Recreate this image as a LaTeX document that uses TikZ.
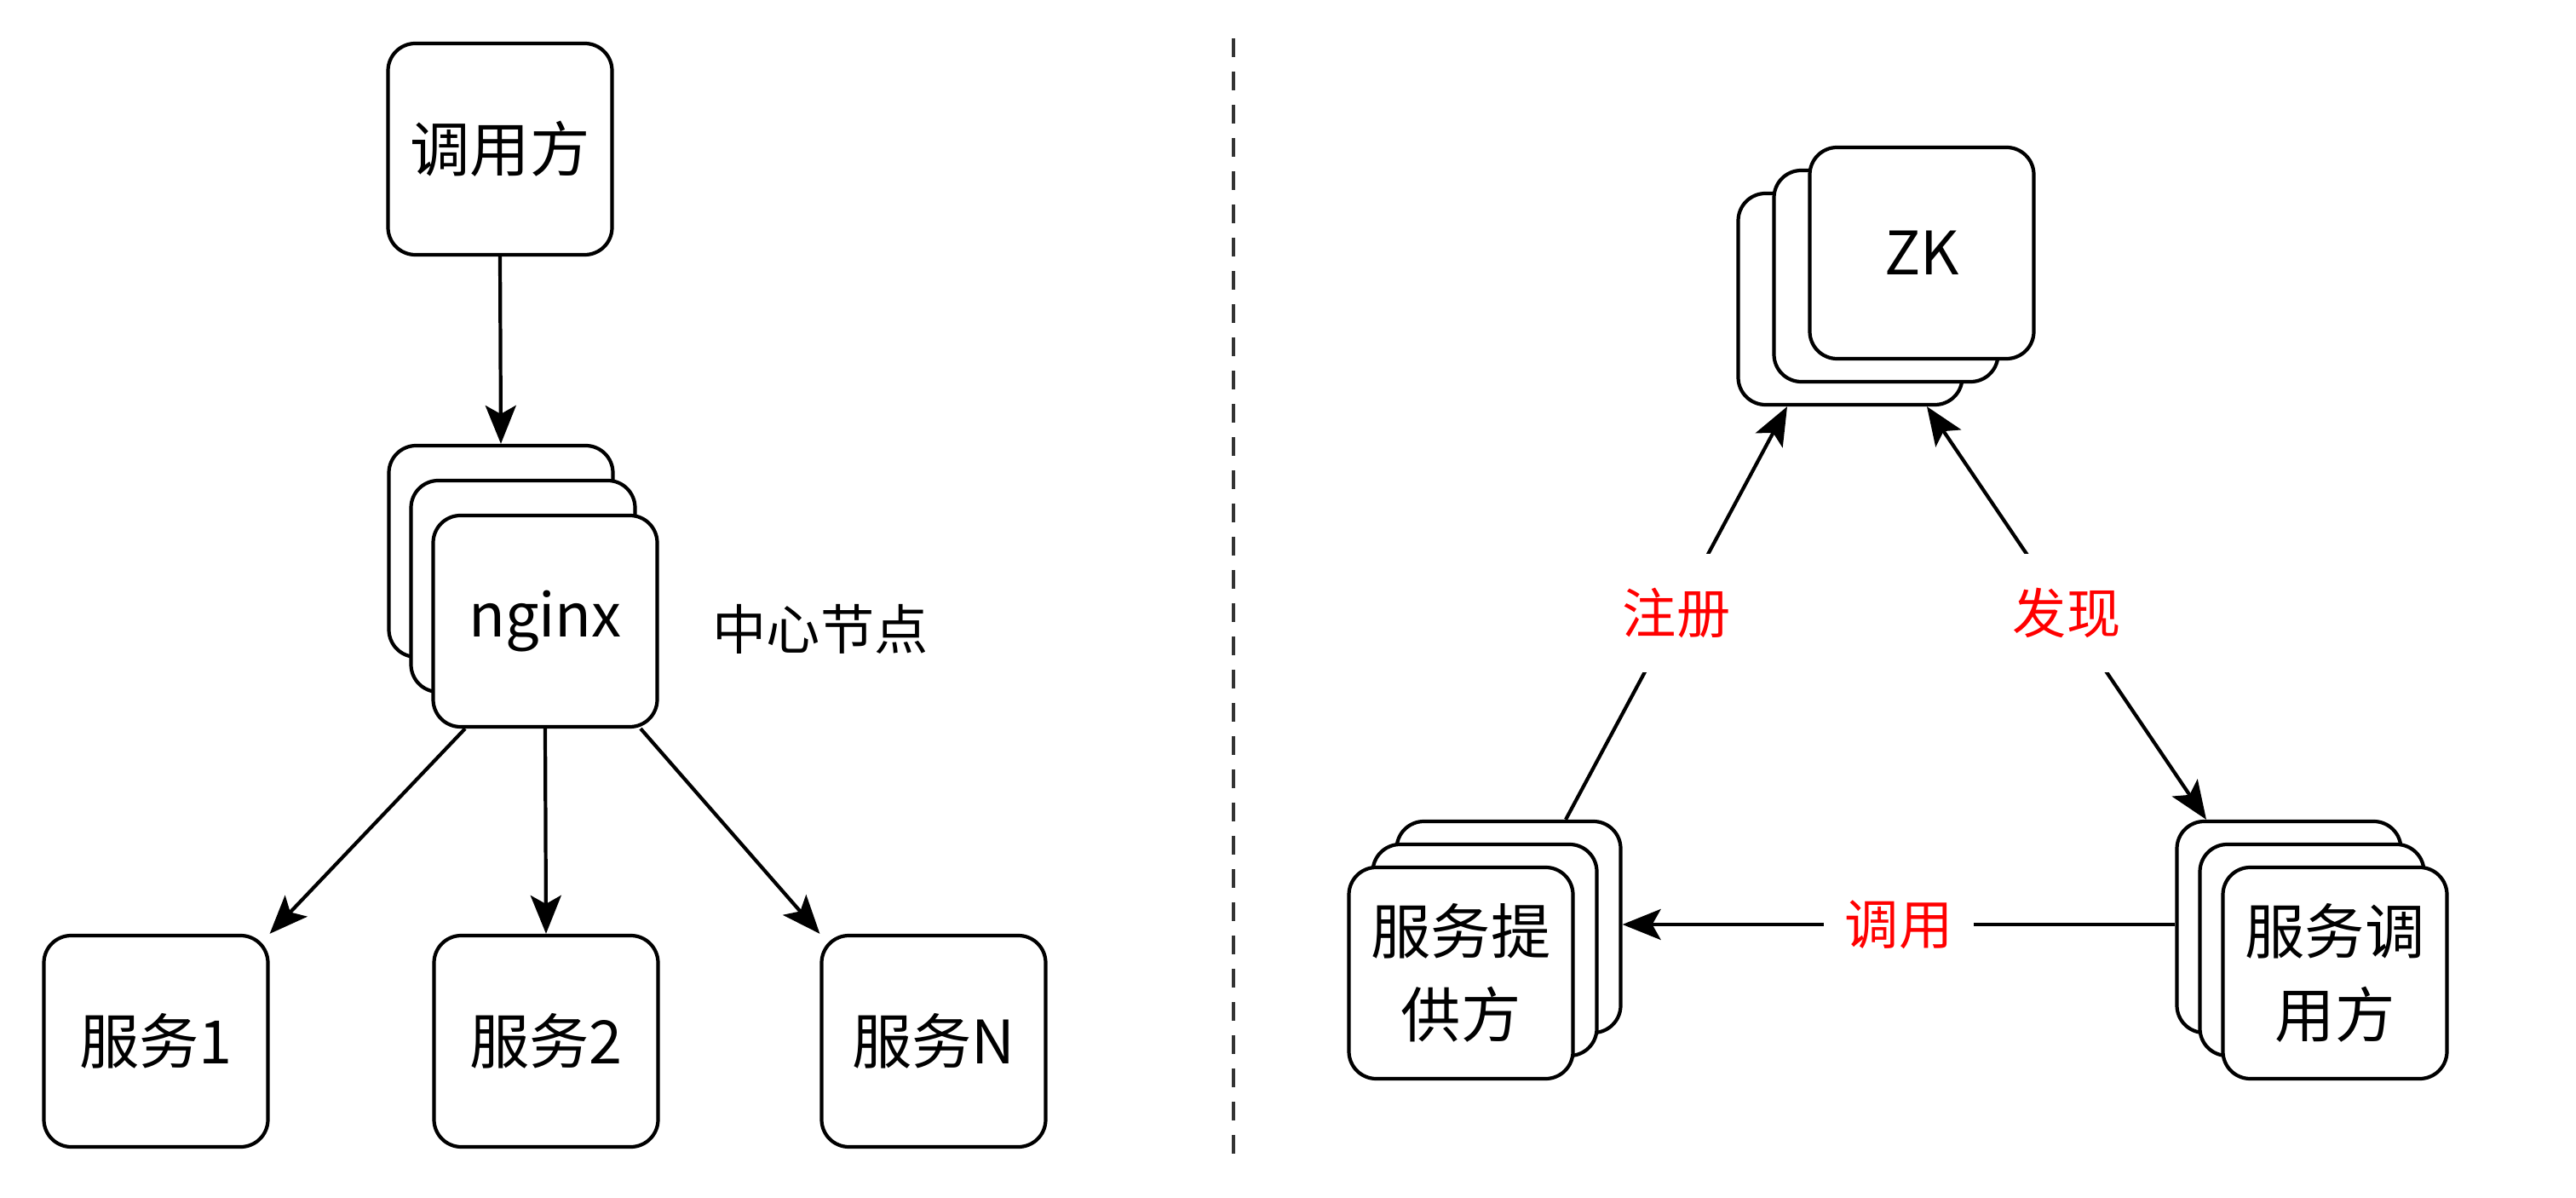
\documentclass[tikz,border=0pt]{standalone}
\usepackage{fontspec}
\setmainfont{Noto Sans CJK SC}
\usetikzlibrary{arrows.meta}

\begin{document}
\begin{tikzpicture}[
    >={Stealth[length=0.45cm, width=0.36cm, inset=0.1cm]},
    card/.style={draw, fill=white, line width=1.2pt, rounded corners=0.32cm,
        minimum width=2.63cm, minimum height=2.48cm, inner sep=0pt, align=center,
        font=\fontsize{20}{28}\selectfont},
    arr/.style={line width=1.2pt, ->},
    lbl/.style={fill=white, text=red, inner xsep=0.25cm, inner ysep=0.4cm,
        font=\fontsize{18}{22}\selectfont}
]
    \useasboundingbox (0,0) rectangle (30.24,14.05);
    % Left: one central nginx
    \node[card] (caller) at (5.87,12.30) {调用方};
    \node[card] (nginx3) at (5.88,7.58) {};
    \node[card] (nginx2) at (6.14,7.17) {};
    \node[card] (nginx) at (6.40,6.76) {nginx};
    \node[font=\fontsize{18}{22}\selectfont] (hub) at (9.63,6.67) {中心节点};
    \node[card] (s1) at (1.83,1.83) {服务1};
    \node[card] (s2) at (6.41,1.83) {服务2};
    \node[card] (sN) at (10.96,1.83) {服务N};
    \draw[arr] (caller.south) -- (nginx3.north);
    \draw[arr] ([xshift=-0.94cm]nginx.south) -- (s1.north east);
    \draw[arr] (nginx.south) -- (s2.north);
    \draw[arr] ([xshift=1.12cm]nginx.south) -- (sN.north west);

    % Separator
    \coordinate (septop) at (14.48,13.60);
    \coordinate (sepbot) at (14.48,0.50);
    \draw[line width=1.3pt, black!80, dash pattern=on 0.22cm off 0.17cm] (septop) -- (sepbot);

    % Right: registry
    \node[card] (zk3) at (21.72,10.54) {};
    \node[card] (zk2) at (22.14,10.81) {};
    \node[card] (zk) at (22.56,11.08) {ZK};
    \node[card] (prov3) at (17.71,3.17) {};
    \node[card] (prov2) at (17.43,2.90) {};
    \node[card] (prov) at (17.15,2.63) {服务提\\供方};
    \node[card] (cons3) at (26.87,3.17) {};
    \node[card] (cons2) at (27.14,2.90) {};
    \node[card] (cons) at (27.41,2.63) {服务调\\用方};
    \draw[arr] ([xshift=0.67cm]prov3.north) -- node[lbl] {注册} ([xshift=-0.74cm]zk3.south);
    \draw[arr, <->] ([xshift=0.90cm]zk3.south) -- node[lbl] {发现} ([xshift=-0.97cm]cons3.north);
    \draw[arr] ([yshift=0.03cm]cons3.west) -- node[lbl] {调用} ([yshift=0.03cm]prov3.east);
\end{tikzpicture}
\end{document}
